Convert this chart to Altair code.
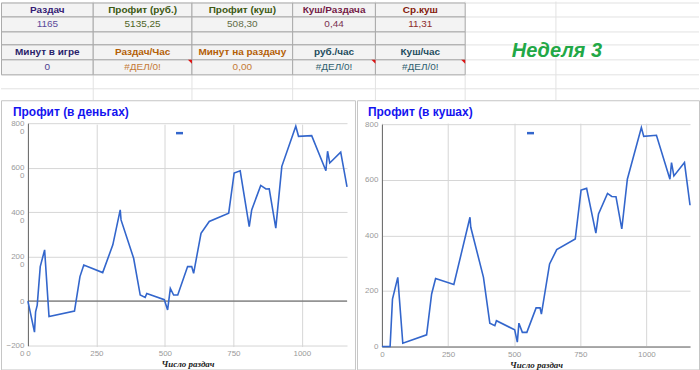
import altair as alt
import pandas as pd

# ---------------- data ----------------
header_row1 = ["Раздач", "Профит (руб.)", "Профит (куш)", "Куш/Раздача", "Ср.куш"]
value_row1 = ["1165", "5135,25", "508,30", "0,44", "11,31"]
header_row2 = ["Минут в игре", "Раздач/Час", "Минут на раздачу", "руб./час", "Куш/час"]
value_row2 = ["0", "#ДЕЛ/0!", "0,00", "#ДЕЛ/0!", "#ДЕЛ/0!"]
error_cols = [1, 3, 4]
week_label = "Неделя 3"

money_hands = [0, 24, 28, 34, 45, 61, 77, 170, 190, 204, 273, 310, 337, 340, 386, 410,
               428, 434, 498, 510, 520, 532, 547, 583, 598, 605, 632, 662, 733, 753,
               775, 808, 817, 850, 869, 881, 905, 927, 978, 988, 1036, 1088, 1094,
               1102, 1142, 1165]
money_profit = [0, -1400, -480, -180, 1550, 2300, -700, -450, 1100, 1620, 1280, 2530,
                4100, 3650, 1925, 270, 165, 345, 60, -400, 570, 270, 270, 1550, 1550,
                1250, 3050, 3580, 3955, 5760, 5860, 3350, 4100, 5200, 5040, 5050, 3280,
                6060, 7860, 7410, 7440, 5860, 6740, 6210, 6700, 5135.25]

bb_hands = [0, 31, 40, 60, 79, 169, 188, 203, 272, 333, 336, 384, 408, 427, 433, 502,
            512, 518, 531, 548, 583, 598, 603, 634, 661, 731, 753, 774, 809, 819, 853,
            869, 885, 907, 928, 981, 990, 1038, 1089, 1095, 1104, 1144, 1165]
bb_profit = [0, 0, 171, 249, 12, 42, 189, 245, 223, 465, 429, 249, 84, 75, 93, 60, 16,
             84, 51, 51, 139, 139, 117, 297, 349, 387, 563, 569, 408, 477, 551, 540, 539,
             423, 602, 788, 756, 760, 602, 662, 614, 662, 508.3]

title_money = "Профит (в деньгах)"
title_bb = "Профит (в кушах)"
x_title = "Число раздач"
series_name = "Профит"
x_ticks = [0, 250, 500, 750, 1000]
money_ticks = [-2000, 0, 2000, 4000, 6000, 8000]
bb_ticks = [0, 200, 400, 600, 800]

# ---------------- styles ----------------
header_colors1 = ["#351c75", "#3d5a12", "#3d5a12", "#741b47", "#85200c"]
value_colors1 = ["#5b4a9a", "#4e6424", "#5f6b45", "#7a3050", "#8d2d2d"]
header_colors2 = ["#2a1f6b", "#b45f06", "#b45f06", "#1f4e5f", "#1f4e5f"]
value_colors2 = ["#4d3d8f", "#c47a36", "#c47a36", "#2f5f6f", "#2f5f6f"]
LINE_COLOR = "#3366cc"
TITLE_COLOR = "#1414f0"
GRID = "#d6d6d6"
LABEL = "#9a9a9a"

# ---------------- layout ----------------
TOP_W, TOP_H = 700, 99
PANEL_H = 270
col_edges = [0, 92, 191, 292, 375, 465]
sheet_cols = [92, 191, 292, 375, 465, 556]
row_edges = [1, 15, 30, 43, 58, 73]
sheet_rows = [1, 15, 30, 43, 58, 73, 87]
week_pos = (557, 49)

sx = alt.Scale(domain=[0, TOP_W], range=[0.5, TOP_W + 0.5], nice=False, zero=False)
sy = alt.Scale(domain=[0, TOP_H], range=[0.5, TOP_H + 0.5], nice=False, zero=False)

vlines = alt.Chart(pd.DataFrame({"x": sheet_cols})).mark_rule(color="#e2e2e2").encode(
    x=alt.X("x:Q", scale=sx, axis=None), y=alt.value(0), y2=alt.value(TOP_H))
hlines = alt.Chart(pd.DataFrame({"y": sheet_rows})).mark_rule(color="#e2e2e2").encode(
    y=alt.Y("y:Q", scale=sy, axis=None), x=alt.value(0), x2=alt.value(TOP_W))

cells = []
for r in range(5):
    for c in range(5):
        cells.append({"x0": col_edges[c], "x1": col_edges[c + 1],
                      "y0": row_edges[r], "y1": row_edges[r + 1]})
cell_layer = alt.Chart(pd.DataFrame(cells)).mark_rect(
    fill="#f3f3f3", stroke="#aaaaaa", strokeWidth=1).encode(
    x=alt.X("x0:Q", scale=sx, axis=None), x2="x1:Q",
    y=alt.Y("y0:Q", scale=sy, axis=None), y2="y1:Q")

def centers(r):
    return (row_edges[r] + row_edges[r + 1]) / 2

bold_rows, norm_rows = [], []
for c in range(5):
    cx = (col_edges[c] + col_edges[c + 1]) / 2
    bold_rows.append({"cx": cx, "cy": centers(0), "t": header_row1[c], "col": header_colors1[c]})
    bold_rows.append({"cx": cx, "cy": centers(3), "t": header_row2[c], "col": header_colors2[c]})
    norm_rows.append({"cx": cx, "cy": centers(1), "t": value_row1[c], "col": value_colors1[c]})
    norm_rows.append({"cx": cx, "cy": centers(4), "t": value_row2[c], "col": value_colors2[c]})

bold_text = alt.Chart(pd.DataFrame(bold_rows)).mark_text(
    font="Liberation Sans", fontSize=10, fontWeight="bold", baseline="middle").encode(
    x=alt.X("cx:Q", scale=sx, axis=None), y=alt.Y("cy:Q", scale=sy, axis=None),
    text="t:N", color=alt.Color("col:N", scale=None))
norm_text = alt.Chart(pd.DataFrame(norm_rows)).mark_text(
    font="Liberation Sans", fontSize=10, baseline="middle").encode(
    x=alt.X("cx:Q", scale=sx, axis=None), y=alt.Y("cy:Q", scale=sy, axis=None),
    text="t:N", color=alt.Color("col:N", scale=None))

tri = pd.DataFrame({"x": [col_edges[c + 1] - 2 for c in error_cols],
                    "y": [row_edges[4] + 2] * len(error_cols)})
tri_layer = alt.Chart(tri).mark_point(
    shape="M -1 -1 L 1 -1 L 1 1 Z", filled=True, size=16, color="#dd1111", opacity=1).encode(
    x=alt.X("x:Q", scale=sx, axis=None), y=alt.Y("y:Q", scale=sy, axis=None))

week = alt.Chart(pd.DataFrame({"t": [week_label], "x": [week_pos[0]], "y": [week_pos[1]]})).mark_text(
    font="Liberation Sans", fontSize=20, fontWeight="bold", fontStyle="italic",
    color="#22a846", baseline="middle").encode(
    x=alt.X("x:Q", scale=sx, axis=None), y=alt.Y("y:Q", scale=sy, axis=None), text="t:N")

top = alt.layer(vlines, hlines, cell_layer, bold_text, norm_text, tri_layer, week).properties(
    width=TOP_W, height=TOP_H, view=alt.ViewBackground(stroke="transparent", fill="white"))


def panel(hands, profit, title, width, x_range, y_domain, y_range, y_ticks,
          label_expr, x_domain_line, zero_line, legend_x, title_x):
    df = pd.DataFrame({"hands": hands, "profit": profit, "series": series_name})
    xs = alt.Scale(domain=[0, 1165], range=x_range, nice=False, zero=False)
    ys = alt.Scale(domain=y_domain, range=y_range, nice=False, zero=False)
    y_kw = dict(values=y_ticks, offset=-x_range[0], title=None, ticks=False, domain=True,
                domainColor="#666666", grid=True, gridColor=GRID, labelColor=LABEL,
                labelFont="Liberation Sans", labelFontSize=8, labelPadding=4, format="d",
                labelFlush=False, labelLineHeight=8)
    if label_expr:
        y_kw["labelExpr"] = label_expr
    y_axis = alt.Axis(**y_kw)
    x_axis = alt.Axis(values=x_ticks, offset=-(PANEL_H - y_range[0]), ticks=False,
                      domain=x_domain_line, domainColor="#666666", grid=True, gridColor=GRID,
                      labelColor=LABEL, labelFont="Liberation Sans", labelFontSize=8,
                      labelPadding=4, labelFlush=False, format="d", title=x_title,
                      titleFont="Liberation Serif", titleFontSize=9, titleFontStyle="italic",
                      titleFontWeight="bold", titleColor="#222222", titlePadding=2)
    line = alt.Chart(df).mark_line(strokeWidth=1.6).encode(
        x=alt.X("hands:Q", scale=xs, axis=x_axis),
        y=alt.Y("profit:Q", scale=ys, axis=y_axis),
        color=alt.Color("series:N", scale=alt.Scale(range=[LINE_COLOR]),
                        legend=alt.Legend(orient="none", legendX=legend_x, legendY=28,
                                          title=None, symbolType="stroke", symbolSize=49,
                                          symbolStrokeWidth=2.5, labelExpr="''", padding=0,
                                          labelFontSize=1)))
    layers = []
    if zero_line:
        layers.append(alt.Chart(pd.DataFrame({"y": [0]})).mark_rule(
            color="#555555", strokeWidth=1).encode(
            y=alt.Y("y:Q", scale=ys), x=alt.datum(0), x2=alt.datum(1165)))
    layers.append(line)
    ttl = alt.Chart(pd.DataFrame({"t": [title]})).mark_text(
        font="Liberation Sans", fontSize=12, fontWeight="bold", color=TITLE_COLOR,
        align="left", baseline="middle").encode(
        x=alt.value(title_x), y=alt.value(12), text="t:N")
    layers.append(ttl)
    return alt.layer(*layers).properties(
        width=width, height=PANEL_H,
        view=alt.ViewBackground(stroke="#c6c6c6", fill="white"))


left = panel(money_hands, money_profit, title_money, 355, [27, 347], [-2000, 8000],
             [246, 23], money_ticks,
             "datum.value == 0 ? '0' : [slice(datum.label, 0, -1), '0']",
             False, True, 174, 12)
right = panel(bb_hands, bb_profit, title_bb, 343, [25, 334], [0, 800],
              [247, 24], bb_ticks, None, True, False, 169, 11)

bottom = alt.hconcat(left, right, spacing=2, bounds="flush").resolve_scale(
    color="independent").resolve_legend(color="independent")
chart = alt.vconcat(top, bottom, spacing=0, bounds="flush").resolve_scale(
    color="independent").resolve_legend(color="independent").properties(
    padding=0, background="white")

chart.save("out.html", embed_options={"renderer": "svg", "actions": False})
